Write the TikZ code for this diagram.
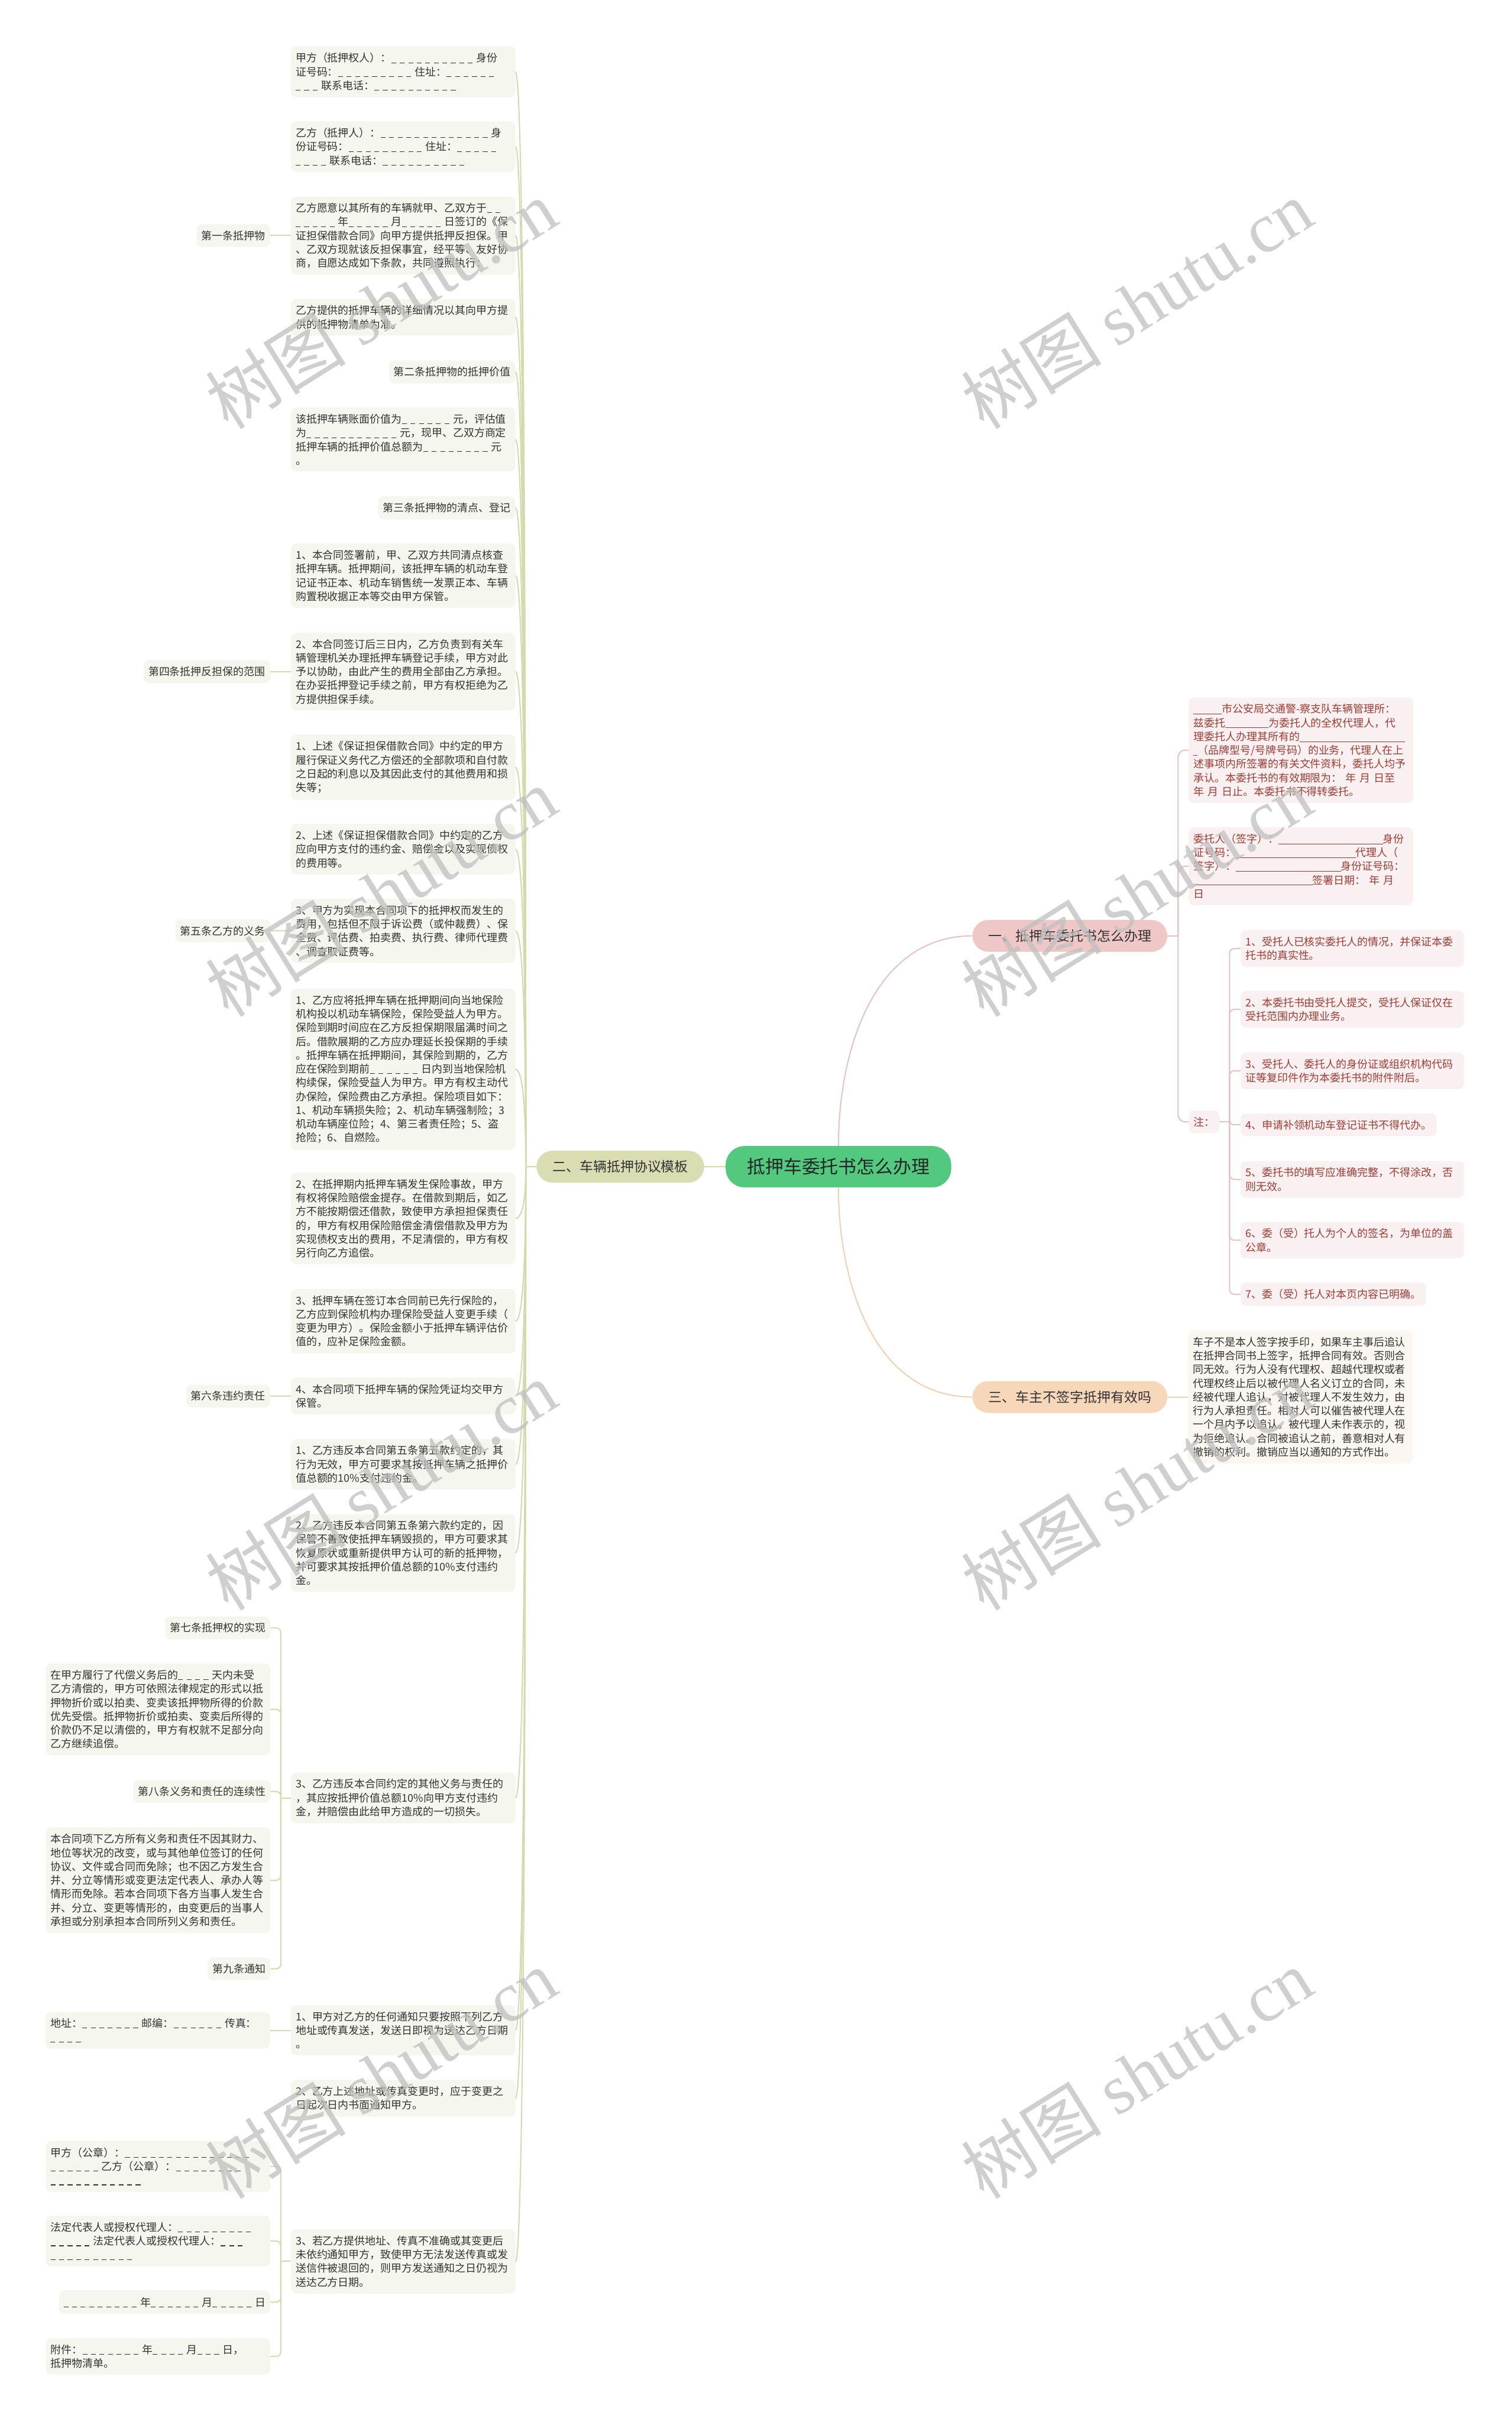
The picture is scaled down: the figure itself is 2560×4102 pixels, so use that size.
\documentclass[tikz,border=0pt]{standalone}
\usepackage{fontspec}
\setmainfont{Noto Sans CJK SC}
\newfontfamily\wmserif{Liberation Serif}
\usetikzlibrary{positioning,calc}
\definecolor{OliveLine}{HTML}{D3DAAB}
\definecolor{OliveFill}{HTML}{DADDB2}
\definecolor{LeafFill}{HTML}{F5F6EE}
\definecolor{RootGreen}{HTML}{52C97F}
\definecolor{RoseLine}{HTML}{E4C3C1}
\definecolor{RoseFill}{HTML}{EEC7C6}
\definecolor{RoseLeaf}{HTML}{F9F1F1}
\definecolor{RoseText}{HTML}{A33B33}
\definecolor{PeachLine}{HTML}{F2D0B0}
\definecolor{PeachFill}{HTML}{F6D7B9}
\definecolor{PeachLeaf}{HTML}{FBF6F0}
\definecolor{InkGray}{HTML}{333333}
% dashed blanks and solid blanks of the form
\newcommand\fillin[1]{\foreach \k in {1,...,#1}{\rule[-0.1em]{0.45em}{0.06em}\kern0.35em}}
\newcommand\longblank[1]{\rule[-0.12em]{#1pt}{0.05em}}

\begin{document}
\begin{tikzpicture}[x=1pt,y=-1pt,
    leafbox/.style={fill=LeafFill,rounded corners=9pt,text=InkGray,inner xsep=8pt,inner ysep=11pt,font=\fontsize{18}{23.3}\selectfont},
    parabox/.style={leafbox,text width=364pt,align=left},
    tagbox/.style={leafbox,align=left},
    roseparabox/.style={parabox,fill=RoseLeaf,text=RoseText},
    rosenotebox/.style={roseparabox,text width=362pt},
    rosetagbox/.style={tagbox,fill=RoseLeaf,text=RoseText},
    topicbox/.style={rounded corners=27pt,minimum height=54pt,inner xsep=27pt,text=InkGray,font=\fontsize{23}{28}\selectfont},
    rootbox/.style={fill=RootGreen,rounded corners=32pt,minimum height=70pt,inner xsep=36pt,text=black!85,font=\fontsize{31}{36}\selectfont},
    oliveline/.style={draw=OliveLine,line width=2pt},
    roseline/.style={draw=RoseLine,line width=2pt},
    peachline/.style={draw=PeachLine,line width=2pt},
    wmark/.style={text=black!25,opacity=0.75,font=\fontsize{119}{124}\selectfont,rotate=32}
  ]
  \fill[white] (0,0) rectangle (2560,4102);
  \useasboundingbox (0,0) rectangle (2560,4102);

  % centre and first level
  \node[rootbox] (root) at (1420,1976) {抵押车委托书怎么办理};
  \node[topicbox,fill=OliveFill,left=36pt of root] (model) {二、车辆抵押协议模板};
  \node[topicbox,fill=RoseFill] (howto) at (1812,1585) {一、抵押车委托书怎么办理};
  \node[topicbox,fill=PeachFill] (valid) at (1812,2366) {三、车主不签字抵押有效吗};

  % agreement template: column of clauses
  \node[parabox,anchor=east] (jiaInfo) at (873,121.5) {甲方（抵押权人）：\fillin{10}身份\\证号码：\fillin{9}住址：\fillin{6}\\\fillin{3}联系电话：\fillin{10}};
  \node[parabox,anchor=east] (yiInfo) at (873,248.5) {乙方（抵押人）：\fillin{13}身\\份证号码：\fillin{9}住址：\fillin{5}\\\fillin{4}联系电话：\fillin{10}};
  \node[parabox,anchor=east] (pledgeIntro) at (873,399) {乙方愿意以其所有的车辆就甲、乙双方于\fillin{2}\\\fillin{5}年\fillin{5}月\fillin{5}日签订的《保\\证担保借款合同》向甲方提供抵押反担保。甲\\、乙双方现就该反担保事宜，经平等、友好协\\商，自愿达成如下条款，共同遵照执行：};
  \node[parabox,anchor=east] (pledgeList) at (873,537.5) {乙方提供的抵押车辆的详细情况以其向甲方提\\供的抵押物清单为准。};
  \node[tagbox,anchor=east] (art2) at (873,630) {第二条抵押物的抵押价值};
  \node[parabox,anchor=east] (bookValue) at (873,744.5) {该抵押车辆账面价值为\fillin{6}元，评估值\\为\fillin{11}元，现甲、乙双方商定\\抵押车辆的抵押价值总额为\fillin{8}元\\。};
  \node[tagbox,anchor=east] (art3) at (873,860) {第三条抵押物的清点、登记};
  \node[parabox,anchor=east] (countCheck) at (873,975) {1、本合同签署前，甲、乙双方共同清点核查\\抵押车辆。抵押期间，该抵押车辆的机动车登\\记证书正本、机动车销售统一发票正本、车辆\\购置税收据正本等交由甲方保管。};
  \node[parabox,anchor=east] (regHandle) at (873,1137.5) {2、本合同签订后三日内，乙方负责到有关车\\辆管理机关办理抵押车辆登记手续，甲方对此\\予以协助，由此产生的费用全部由乙方承担。\\在办妥抵押登记手续之前，甲方有权拒绝为乙\\方提供担保手续。};
  \node[parabox,anchor=east] (scopeOne) at (873,1299.5) {1、上述《保证担保借款合同》中约定的甲方\\履行保证义务代乙方偿还的全部款项和自付款\\之日起的利息以及其因此支付的其他费用和损\\失等；};
  \node[parabox,anchor=east] (scopeTwo) at (873,1438) {2、上述《保证担保借款合同》中约定的乙方\\应向甲方支付的违约金、赔偿金以及实现债权\\的费用等。};
  \node[parabox,anchor=east] (scopeThree) at (873,1576.5) {3、甲方为实现本合同项下的抵押权而发生的\\费用，包括但不限于诉讼费（或仲裁费）、保\\全费、评估费、拍卖费、执行费、律师代理费\\、调查取证费等。};
  \node[parabox,anchor=east] (insure) at (873,1811) {1、乙方应将抵押车辆在抵押期间向当地保险\\机构投以机动车辆保险，保险受益人为甲方。\\保险到期时间应在乙方反担保期限届满时间之\\后。借款展期的乙方应办理延长投保期的手续\\。抵押车辆在抵押期间，其保险到期的，乙方\\应在保险到期前\fillin{6}日内到当地保险机\\构续保，保险受益人为甲方。甲方有权主动代\\办保险，保险费由乙方承担。保险项目如下：\\1、机动车辆损失险；2、机动车辆强制险；3\\机动车辆座位险；4、第三者责任险；5、盗\\抢险；6、自燃险。};
  \node[parabox,anchor=east] (claim) at (873,2063.5) {2、在抵押期内抵押车辆发生保险事故，甲方\\有权将保险赔偿金提存。在借款到期后，如乙\\方不能按期偿还借款，致使甲方承担担保责任\\的，甲方有权用保险赔偿金清偿借款及甲方为\\实现债权支出的费用，不足清偿的，甲方有权\\另行向乙方追偿。};
  \node[parabox,anchor=east] (preInsured) at (873,2237.5) {3、抵押车辆在签订本合同前已先行保险的，\\乙方应到保险机构办理保险受益人变更手续（\\变更为甲方）。保险金额小于抵押车辆评估价\\值的，应补足保险金额。};
  \node[parabox,anchor=east] (voucher) at (873,2364.5) {4、本合同项下抵押车辆的保险凭证均交甲方\\保管。};
  \node[parabox,anchor=east] (breachOne) at (873,2480) {1、乙方违反本合同第五条第五款约定的，其\\行为无效，甲方可要求其按抵押车辆之抵押价\\值总额的10\%支付违约金。};
  \node[parabox,anchor=east] (breachTwo) at (873,2630) {2、乙方违反本合同第五条第六款约定的，因\\保管不善致使抵押车辆毁损的，甲方可要求其\\恢复原状或重新提供甲方认可的新的抵押物，\\并可要求其按抵押价值总额的10\%支付违约\\金。};
  \node[parabox,anchor=east] (breachThree) at (873,3045) {3、乙方违反本合同约定的其他义务与责任的\\，其应按抵押价值总额10\%向甲方支付违约\\金，并赔偿由此给甲方造成的一切损失。};
  \node[parabox,anchor=east] (noticeOne) at (873,3438.5) {1、甲方对乙方的任何通知只要按照下列乙方\\地址或传真发送，发送日即视为送达乙方日期\\。};
  \node[parabox,anchor=east] (noticeTwo) at (873,3553.5) {2、乙方上述地址或传真变更时，应于变更之\\日起次日内书面通知甲方。};
  \node[parabox,anchor=east] (noticeThree) at (873,3830) {3、若乙方提供地址、传真不准确或其变更后\\未依约通知甲方，致使甲方无法发送传真或发\\送信件被退回的，则甲方发送通知之日仍视为\\送达乙方日期。};

  % headings hanging to the left
  \node[tagbox,left=35pt of pledgeIntro] (art1) {第一条抵押物};
  \node[tagbox,left=35pt of regHandle] (art4) {第四条抵押反担保的范围};
  \node[tagbox,left=35pt of scopeThree] (art5) {第五条乙方的义务};
  \node[tagbox,left=35pt of voucher] (art6) {第六条违约责任};
  \node[tagbox,anchor=east] (art7) at (458,2757) {第七条抵押权的实现};
  \node[parabox,anchor=east] (realize) at (458,2895) {在甲方履行了代偿义务后的\fillin{4}天内未受\\乙方清偿的，甲方可依照法律规定的形式以抵\\押物折价或以拍卖、变卖该抵押物所得的价款\\优先受偿。抵押物折价或拍卖、变卖后所得的\\价款仍不足以清偿的，甲方有权就不足部分向\\乙方继续追偿。};
  \node[tagbox,anchor=east] (art8) at (458,3034) {第八条义务和责任的连续性};
  \node[parabox,anchor=east] (continuity) at (458,3184.5) {本合同项下乙方所有义务和责任不因其财力、\\地位等状况的改变，或与其他单位签订的任何\\协议、文件或合同而免除；也不因乙方发生合\\并、分立等情形或变更法定代表人、承办人等\\情形而免除。若本合同项下各方当事人发生合\\并、分立、变更等情形的，由变更后的当事人\\承担或分别承担本合同所列义务和责任。};
  \node[tagbox,anchor=east] (art9) at (458,3334.5) {第九条通知};
  \node[parabox,left=35pt of noticeOne] (address) {地址：\fillin{7}邮编：\fillin{6}传真：\\\fillin{4}};
  \node[parabox,anchor=east] (sealRow) at (458,3669) {甲方（公章）：\fillin{15}\\\fillin{6}乙方（公章）：\fillin{8}\\\fillin{11}};
  \node[parabox,anchor=east] (agentRow) at (458,3795.5) {法定代表人或授权代理人：\fillin{9}\\\fillin{5}法定代表人或授权代理人：\fillin{3}\\\fillin{10}};
  \node[tagbox,anchor=east] (dateRow) at (458,3899) {\fillin{9}年\fillin{6}月\fillin{5}日};
  \node[parabox,anchor=east] (annex) at (458,3991) {附件：\fillin{7}年\fillin{4}月\fillin{3}日，\\抵押物清单。};

  % power of attorney
  \node[roseparabox,anchor=west] (letterBody) at (2013,1270.5) {\longblank{48}市公安局交通警-察支队车辆管理所：\\兹委托\longblank{73}为委托人的全权代理人，代\\理委托人办理其所有的\longblank{178}\\\longblank{7}（品牌型号/号牌号码）的业务，代理人在上\\述事项内所签署的有关文件资料，委托人均予\\承认。本委托书的有效期限为： 年 月 日至\\年 月 日止。本委托书不得转委托。};
  \node[roseparabox,anchor=west] (signRow) at (2013,1467) {委托人（签字）：\longblank{177}身份\\证号码：\longblank{203}代理人（\\签字）：\longblank{178}身份证号码：\\\longblank{202}签署日期： 年 月\\日};
  \node[rosetagbox,anchor=west] (noteTag) at (2013,1900) {注：};
  \node[rosenotebox,anchor=west] (noteOne) at (2101,1606.5) {1、受托人已核实委托人的情况，并保证本委\\托书的真实性。};
  \node[rosenotebox,anchor=west] (noteTwo) at (2101,1709.5) {2、本委托书由受托人提交，受托人保证仅在\\受托范围内办理业务。};
  \node[rosenotebox,anchor=west] (noteThree) at (2101,1813.5) {3、受托人、委托人的身份证或组织机构代码\\证等复印件作为本委托书的附件附后。};
  \node[rosetagbox,anchor=west] (noteFour) at (2101,1905) {4、申请补领机动车登记证书不得代办。};
  \node[rosenotebox,anchor=west] (noteFive) at (2101,1997.5) {5、委托书的填写应准确完整，不得涂改，否\\则无效。};
  \node[rosenotebox,anchor=west] (noteSix) at (2101,2100.5) {6、委（受）托人为个人的签名，为单位的盖\\公章。};
  \node[rosetagbox,anchor=west] (noteSeven) at (2101,2192) {7、委（受）托人对本页内容已明确。};

  % owner did not sign
  \node[parabox,fill=PeachLeaf,right=35pt of valid] (validText) {车子不是本人签字按手印，如果车主事后追认\\在抵押合同书上签字，抵押合同有效。否则合\\同无效。行为人没有代理权、超越代理权或者\\代理权终止后以被代理人名义订立的合同，未\\经被代理人追认，对被代理人不发生效力，由\\行为人承担责任。相对人可以催告被代理人在\\一个月内予以追认。被代理人未作表示的，视\\为拒绝追认。合同被追认之前，善意相对人有\\撤销的权利。撤销应当以通知的方式作出。};

  % connectors
  \draw[oliveline] (root.west) -- (model.east);
  \draw[roseline] (root.north) to[out=90,in=180] (howto.west);
  \draw[peachline] (root.south) to[out=-90,in=180] (valid.west);
  \coordinate (hub) at ($(model.west)+(-18,0)$);
  \draw[oliveline] (model.west) -- (hub);
  \foreach \n in {jiaInfo,yiInfo,pledgeIntro,pledgeList,art2,bookValue,art3,countCheck,regHandle,scopeOne,scopeTwo,scopeThree,insure,claim,preInsured,voucher,breachOne,breachTwo,breachThree,noticeOne,noticeTwo,noticeThree}
    \draw[oliveline] (\n.east) .. controls +(14,0) and ($(hub)!0.5!(hub|-\n.east)$) .. (hub);
  \draw[oliveline] (pledgeIntro.west) -- (art1.east);
  \draw[oliveline] (regHandle.west) -- (art4.east);
  \draw[oliveline] (scopeThree.west) -- (art5.east);
  \draw[oliveline] (voucher.west) -- (art6.east);
  \draw[oliveline] (noticeOne.west) -- (address.east);
  \coordinate (breachJ) at ($(breachThree.west)+(-17,0)$);
  \draw[oliveline] (breachThree.west) -- (breachJ);
  \foreach \n in {art7,realize,art8,continuity,art9}
    \draw[oliveline,rounded corners=8pt] (breachJ) |- (\n.east);
  \coordinate (noticeJ) at ($(noticeThree.west)+(-17,0)$);
  \draw[oliveline] (noticeThree.west) -- (noticeJ);
  \foreach \n in {sealRow,agentRow,dateRow,annex}
    \draw[oliveline,rounded corners=8pt] (noticeJ) |- (\n.east);

  \coordinate (howJ) at ($(howto.east)+(18,0)$);
  \draw[roseline] (howto.east) -- (howJ);
  \foreach \n in {letterBody,signRow,noteTag}
    \draw[roseline,rounded corners=12pt] (howJ) |- (\n.west);
  \coordinate (noteJ) at ($(noteTag.east)+(17,0)$);
  \draw[roseline] (noteTag.east) -- (noteJ);
  \foreach \n in {noteOne,noteTwo,noteThree,noteFour,noteFive,noteSix,noteSeven}
    \draw[roseline,rounded corners=8pt] (noteJ) |- (\n.west);
  \draw[peachline] (valid.east) -- (validText.west);

  % watermarks
  \foreach \wx/\wy [count=\i] in {645/515,1925/515,645/1511,1925/1511,645/2516,1925/2516,645/3512,1925/3512}
    \node[wmark] (wm\i) at (\wx,\wy) {树图 {\wmserif shutu.cn}};
\end{tikzpicture}
\end{document}
